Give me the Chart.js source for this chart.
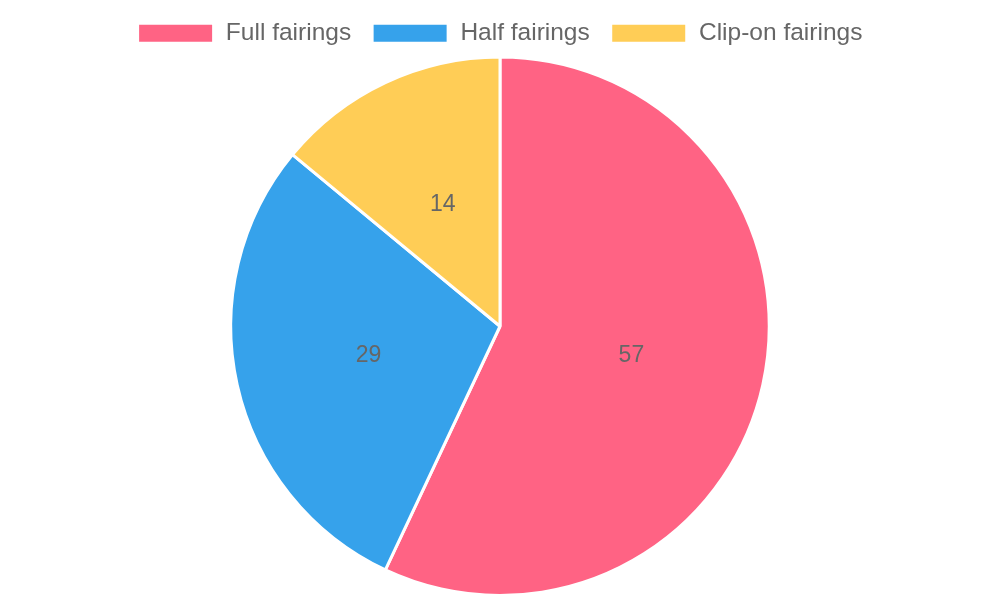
<!DOCTYPE html>
<html>
<head>
<meta charset="utf-8">
<script src="https://cdn.jsdelivr.net/npm/chart.js@4"></script>
<style>
  html, body { margin: 0; padding: 0; background: #fff; }
  #wrap { width: 1000px; height: 600px; }
</style>
</head>
<body>
<div id="wrap"><canvas id="pie-chart"></canvas></div>
<script>
const categories = ['Full fairings', 'Half fairings', 'Clip-on fairings'];
const shares = [57, 29, 14];
const sliceColors = ['#ff6384', '#36a2eb', '#ffcd56'];

/* draw the value in the middle of each slice */
const sliceLabels = {
    id: 'sliceLabels',
    afterDatasetsDraw(chart) {
        const ctx = chart.ctx;
        const meta = chart.getDatasetMeta(0);
        ctx.save();
        ctx.font = "23px 'Liberation Sans', Arial, sans-serif";
        ctx.fillStyle = '#666';
        ctx.textAlign = 'center';
        ctx.textBaseline = 'middle';
        meta.data.forEach((arc, i) => {
            const p = arc.tooltipPosition();
            ctx.fillText(String(chart.data.datasets[0].data[i]), p.x, p.y);
        });
        ctx.restore();
    }
};

new Chart(document.getElementById('pie-chart'), {
    type: 'pie',
    data: {
        labels: categories,
        datasets: [{
            data: shares,
            backgroundColor: sliceColors,
            borderColor: '#fff',
            borderWidth: 3,
        }],
    },
    options: {
        responsive: true,
        maintainAspectRatio: false,
        animation: false,
        layout: { padding: { bottom: 3 } },
        plugins: {
            legend: {
                position: 'top',
                labels: {
                    boxWidth: 76,
                    boxHeight: 20,
                    padding: 21,
                    color: '#666',
                    font: { family: "'Liberation Sans', Arial, sans-serif", size: 24.5 },
                },
            },
            tooltip: { enabled: false },
        },
    },
    plugins: [sliceLabels],
});
</script>
</body>
</html>
